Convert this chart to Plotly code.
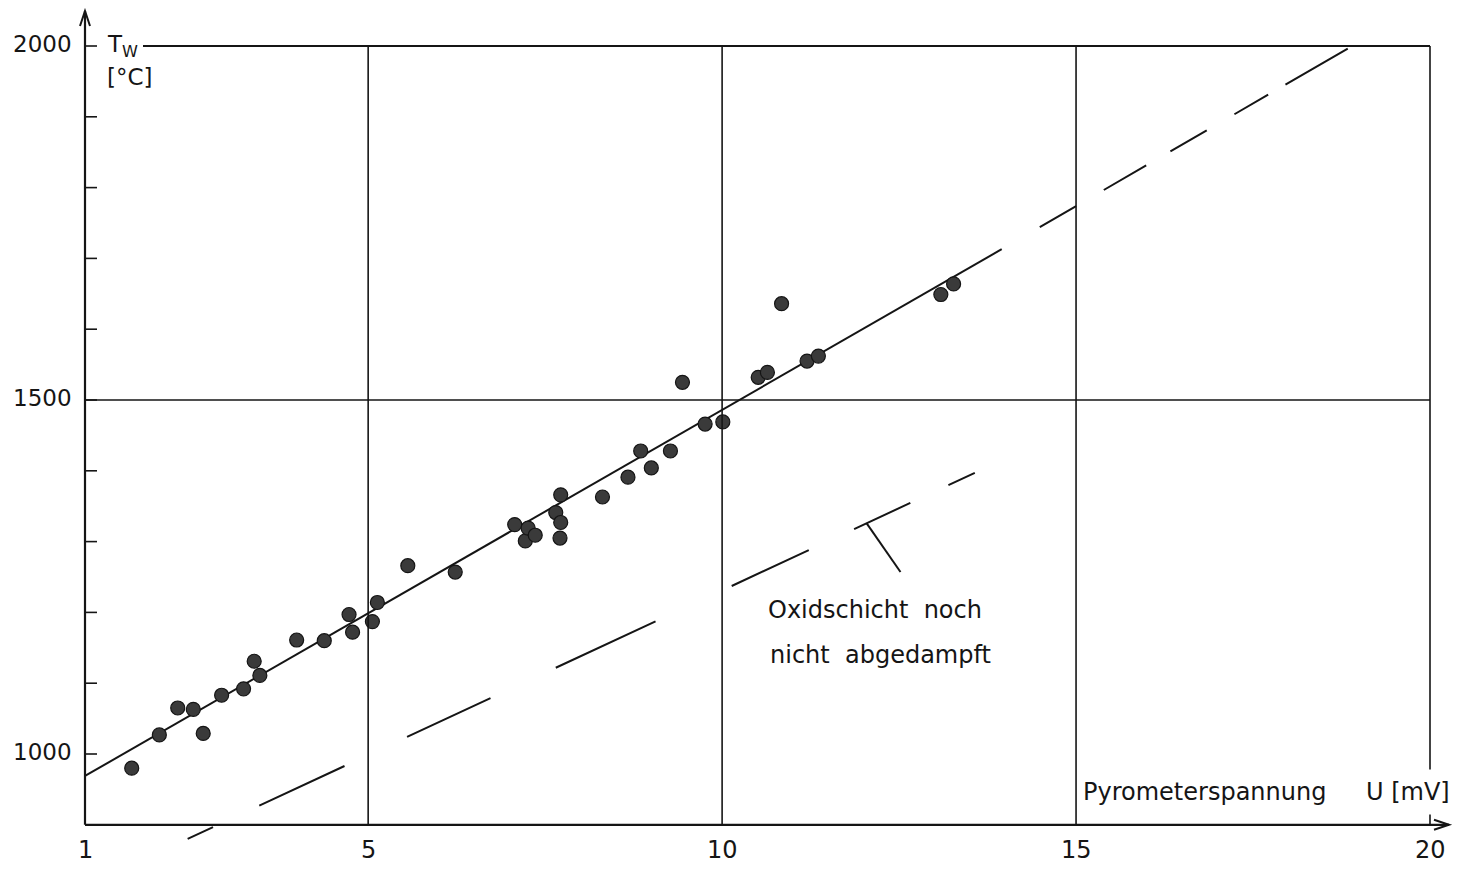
import plotly.graph_objects as go

# ---------------- data ----------------
u_mv = [1.66, 2.05, 2.31, 2.53, 2.67, 2.93, 3.24, 3.39, 3.47, 3.99,
        4.38, 4.73, 4.78, 5.06, 5.13, 5.56, 6.23, 7.07, 7.22, 7.26,
        7.36, 7.65, 7.72, 7.72, 7.71, 8.31, 8.67, 8.85, 9.00, 9.27,
        9.44, 9.76, 10.01, 10.51, 10.64, 10.84, 11.20, 11.36, 13.09, 13.27]
t_w = [980, 1027, 1065, 1063, 1029, 1083, 1092, 1131, 1111, 1161,
       1160, 1197, 1172, 1187, 1214, 1266, 1257, 1324, 1301, 1319,
       1309, 1341, 1327, 1366, 1305, 1363, 1391, 1428, 1404, 1428,
       1525, 1466, 1469, 1532, 1539, 1636, 1555, 1562, 1649, 1664]

fit_u = [1.0, 13.95]
fit_t = [969, 1713]
ext_u = [13.95, 18.9]
ext_t = [1713, 2000]
oxide_u = [2.45, 13.57]
oxide_t = [880, 1397]
pointer_u = [12.04, 12.52]
pointer_t = [1326, 1257]

x_tick_vals = [1, 5, 10, 15, 20]
x_tick_text = ["1", "5", "10", "15", "20"]
y_tick_vals = [1000, 1500, 2000]
y_tick_text = ["1000", "1500", "2000"]
y_minor_ticks = [1000, 1100, 1200, 1300, 1400, 1500, 1600, 1700, 1800, 1900, 2000]
x_grid = [5, 10, 15, 20]
y_grid = [1500]
x_min, x_max = 1, 20
y_min, y_max = 900, 2000

# ---------------- pixel mapping (layout) ----------------
OFF = 8                      # page body margin in the browser
W, H = 1468 - OFF, 871 - OFF
PX_U1, PX_U20 = 85, 1430     # screen pixels of u=1 and u=20
PX_T1000, PX_T2000 = 754, 46  # screen pixels of T=1000 and T=2000
sx = (PX_U20 - PX_U1) / 19.0
sy = (PX_T1000 - PX_T2000) / 1000.0


def u(px):
    return 1 + (px - PX_U1) / sx


def t(py):
    return 1000 + (PX_T1000 - py) / sy


xr = [u(OFF), u(OFF + W)]
yr = [t(OFF + H), t(OFF)]

INK = "#151515"
FONT = "DejaVu Sans"

fig = go.Figure()

fig.add_trace(go.Scatter(x=fit_u, y=fit_t, mode="lines",
                         line=dict(color=INK, width=2), hoverinfo="skip"))
fig.add_trace(go.Scatter(x=ext_u, y=ext_t, mode="lines",
                         line=dict(color=INK, width=2,
                                   dash="0px,44px,42px,32px,49px,28px,42px,32px,39px,20px,72px,300px"),
                         hoverinfo="skip"))
fig.add_trace(go.Scatter(x=oxide_u, y=oxide_t, mode="lines",
                         line=dict(color=INK, width=2,
                                   dash="28px,51px,94px,69px,92px,72px,110px,84px,85px,50px,62px,42px,31px,300px"),
                         hoverinfo="skip"))
fig.add_trace(go.Scatter(x=u_mv, y=t_w, mode="markers",
                         marker=dict(size=14, color="#3a3a3a",
                                     line=dict(color=INK, width=1.2)),
                         hoverinfo="x+y"))

shapes = []
# axes
x_tip = u(1449)
y_tip = t(11)
shapes.append(dict(type="line", xref="x", yref="y", x0=x_min, x1=x_tip,
                   y0=y_min, y1=y_min, line=dict(color=INK, width=2.2)))
shapes.append(dict(type="line", xref="x", yref="y", x0=x_min, x1=x_min,
                   y0=y_min, y1=y_tip, line=dict(color=INK, width=2.2)))
# arrow heads (pixel-sized, anchored at the axis tips)
shapes.append(dict(type="path", xref="x", yref="y", xsizemode="pixel", ysizemode="pixel",
                   xanchor=x_tip, yanchor=y_min, path="M -15 5 L 0 0 L -15 -5",
                   line=dict(color=INK, width=2)))
shapes.append(dict(type="path", xref="x", yref="y", xsizemode="pixel", ysizemode="pixel",
                   xanchor=x_min, yanchor=y_tip, path="M -5 -15 L 0 0 L 5 -15",
                   line=dict(color=INK, width=2)))
for gx in x_grid:
    shapes.append(dict(type="line", xref="x", yref="y", x0=gx, x1=gx,
                       y0=y_min, y1=y_max, line=dict(color=INK, width=1.6)))
for gy in y_grid:
    shapes.append(dict(type="line", xref="x", yref="y", x0=x_min, x1=x_max,
                       y0=gy, y1=gy, line=dict(color=INK, width=1.6)))
shapes.append(dict(type="line", xref="x", yref="y", x0=u(143), x1=x_max,
                   y0=y_max, y1=y_max, line=dict(color=INK, width=1.8)))
for v in y_minor_ticks:
    shapes.append(dict(type="line", xref="x", yref="y", x0=x_min, x1=u(PX_U1 + 12),
                       y0=v, y1=v, line=dict(color=INK, width=1.6)))
# pointer line from the label to the lower curve
shapes.append(dict(type="line", xref="x", yref="y", x0=pointer_u[0], x1=pointer_u[1],
                   y0=pointer_t[0], y1=pointer_t[1], line=dict(color=INK, width=2)))

annotations = []
for v, s in zip(x_tick_vals, x_tick_text):
    annotations.append(dict(x=v, y=y_min, xref="x", yref="y", text=s, showarrow=False,
                            xanchor="center", yanchor="middle", yshift=-25,
                            font=dict(family=FONT, size=24, color=INK)))
for v, s in zip(y_tick_vals, y_tick_text):
    annotations.append(dict(x=x_min, y=v, xref="x", yref="y", text=s, showarrow=False,
                            xanchor="right", yanchor="middle", xshift=-11, yshift=2,
                            font=dict(family=FONT, size=23, color=INK)))
annotations.append(dict(x=u(105), y=t(46), xref="x", yref="y", text="T<sub>W</sub>",
                        showarrow=False, xanchor="left", yanchor="middle",
                        font=dict(family=FONT, size=23, color=INK)))
annotations.append(dict(x=u(105), y=t(77), xref="x", yref="y", text="[°C]",
                        showarrow=False, xanchor="left", yanchor="middle",
                        font=dict(family=FONT, size=23, color=INK)))
annotations.append(dict(x=u(1081), y=t(792), xref="x", yref="y", text="Pyrometerspannung",
                        showarrow=False, xanchor="left", yanchor="middle",
                        font=dict(family=FONT, size=24, color=INK)))
annotations.append(dict(x=u(1357), y=t(792), xref="x", yref="y", text="U [mV]",
                        showarrow=False, xanchor="left", yanchor="middle",
                        bgcolor="white", borderpad=8,
                        font=dict(family=FONT, size=24, color=INK)))
annotations.append(dict(x=u(766), y=t(610), xref="x", yref="y",
                        text="Oxidschicht&nbsp; noch",
                        showarrow=False, xanchor="left", yanchor="middle",
                        font=dict(family=FONT, size=24, color=INK)))
annotations.append(dict(x=u(768), y=t(655), xref="x", yref="y",
                        text="nicht&nbsp; abgedampft",
                        showarrow=False, xanchor="left", yanchor="middle",
                        font=dict(family=FONT, size=24, color=INK)))

fig.update_layout(
    width=W, height=H,
    margin=dict(l=0, r=0, t=0, b=0, pad=0),
    paper_bgcolor="white", plot_bgcolor="white",
    showlegend=False,
    xaxis=dict(range=xr, visible=False, fixedrange=True),
    yaxis=dict(range=yr, visible=False, fixedrange=True),
    shapes=shapes, annotations=annotations,
)

fig.write_html("out.html")
